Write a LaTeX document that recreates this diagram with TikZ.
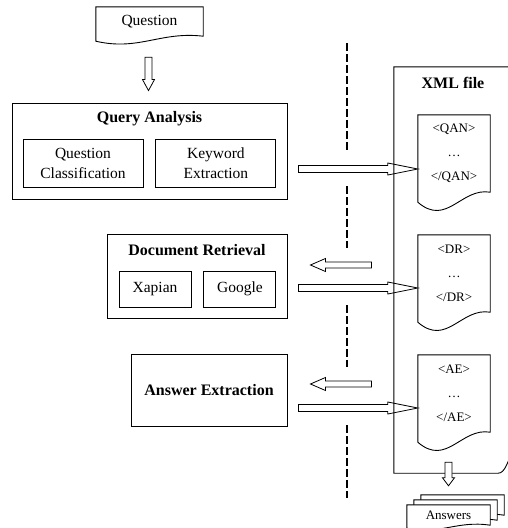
\documentclass[tikz,border=0pt]{standalone}
\usepackage{fontspec}
\setmainfont{Liberation Serif}
\usepackage{tikz}
\usetikzlibrary{calc,positioning,backgrounds}

\begin{document}
\begin{tikzpicture}
  [x=1pt,y=-1pt,
 box/.style={
  rectangle,
  draw=black,
  line width=0.9pt,
  inner sep=0pt,
  align=center,
  font=\fontsize{15.5}{20}\selectfont},
 title/.style={
  inner sep=0pt,
  font=\fontsize{16}{19}\selectfont\bfseries},
 doc/.style={
  rectangle,
  inner sep=0pt,
  align=center,
  font=\fontsize{13}{24}\selectfont},
 docline/.style={draw=black, line width=0.9pt, fill=white},
 divider/.style={line width=2pt, dash pattern=on 8pt off 3pt},
 hollow/.style n args={3}{
  draw=black, line width=0.8pt, fill=white, line join=miter,
  to path={
   ($(\tikztostart)!#1!90:(\tikztotarget)$)
   -- ($($(\tikztotarget)!#3!(\tikztostart)$)!#1!90:(\tikztotarget)$)
   -- ($($(\tikztotarget)!#3!(\tikztostart)$)!#2!90:(\tikztotarget)$)
   -- (\tikztotarget)
   -- ($($(\tikztotarget)!#3!(\tikztostart)$)!#2!-90:(\tikztotarget)$)
   -- ($($(\tikztotarget)!#3!(\tikztostart)$)!#1!-90:(\tikztotarget)$)
   -- ($(\tikztostart)!#1!-90:(\tikztotarget)$) -- cycle}}]
\useasboundingbox (0,0) rectangle (508,528);
\clip (0,0) rectangle (508,528);
% left side: the modules
\node (question) [doc, minimum width=107pt, minimum height=29pt, font=\fontsize{15.5}{18}\selectfont] at (149.5,21.5) {Question};
\node (qa) [box, minimum width=275pt, minimum height=96pt] at (149.5,151) {};
\node (qatitle) [title] at ([shift={(0,16)}]qa.north) {Query Analysis};
\node (qc) [box, minimum width=120pt, minimum height=48pt] at (83,163) {Question\\Classification};
\node (ke) [box, minimum width=120pt, minimum height=48pt, right=12pt of qc] {Keyword\\Extraction};
\node (dr) [box, minimum width=180pt, minimum height=84pt] at (197,276) {};
\node (drtitle) [title] at ([shift={(0,16)}]dr.north) {Document Retrieval};
\node (xapian) [box, minimum width=72pt, minimum height=36pt] at (155,289) {Xapian};
\node (google) [box, minimum width=72pt, minimum height=36pt, right=12pt of xapian] {Google};
\node (ae) [box, minimum width=156pt, minimum height=72pt, font=\fontsize{16}{19}\selectfont\bfseries] at (209,390) {Answer Extraction};
% right side: the XML file
\node (xml) [rectangle, inner sep=0pt, minimum width=130pt, minimum height=406pt] at (459,270) {};
\node (xmltitle) [title] at (453,83) {XML file};
\node (qandoc) [doc, minimum width=72pt, minimum height=77pt] at (454,153.5) {<QAN>\\…\\</QAN>};
\node (drdoc) [doc, minimum width=72pt, minimum height=77pt] at (454,273.5) {<DR>\\…\\</DR>};
\node (aedoc) [doc, minimum width=72pt, minimum height=77pt] at (454,393.5) {<AE>\\…\\</AE>};
\node (answers3) [doc, minimum width=83pt, minimum height=20pt] at (462.5,505) {};
\node (answers2) [doc, minimum width=83pt, minimum height=20pt] at (455.5,510) {};
\node (answers) [doc, minimum width=83pt, minimum height=20pt] at (448.5,515) {Answers};

\coordinate (qtop) at ([shift={(-1,21)}]question.south);
\coordinate (qbot) at ([shift={(-1,-12)}]qa.north);
\coordinate (qaout) at ([shift={(11,18)}]qa.east);
\coordinate (qain) at (qaout -| qandoc.west);
\coordinate (drout) at ([shift={(11,12)}]dr.east);
\coordinate (drin) at (drout -| drdoc.west);
\coordinate (drback) at ([shift={(84,-11)}]dr.east);
\coordinate (drtip) at ([shift={(23,-11)}]dr.east);
\coordinate (aeout) at ([shift={(11,18)}]ae.east);
\coordinate (aein) at (aeout -| aedoc.west);
\coordinate (aeback) at ([shift={(84,-6)}]ae.east);
\coordinate (aetip) at ([shift={(23,-6)}]ae.east);
\coordinate (xmlout) at ([shift={(0,-11)}]answers.north |- xml.south);
\coordinate (ansin) at ([shift={(0,-19)}]answers.north);

% the dashed border
\foreach \a/\b in {43/150,186/248,305/367,425/498}
  \draw[divider] (347,\a) -- (347,\b);

\path (qtop) edge[hollow={3.5pt}{6pt}{11pt}] (qbot);
\path (qaout) edge[hollow={3.5pt}{6pt}{30pt}] (qain);
\path (drout) edge[hollow={3.5pt}{6pt}{30pt}] (drin);
\path (aeout) edge[hollow={3.5pt}{6pt}{30pt}] (aein);
\path (drback) edge[hollow={3pt}{6.5pt}{15pt}] (drtip);
\path (aeback) edge[hollow={3pt}{6.5pt}{15pt}] (aetip);

\draw[line width=0.9pt] (xml.north west) -- (xml.north east) -- ([shift={(0,-40)}]xml.south east)
  .. controls ([shift={(-12,-40)}]xml.south east) and ([shift={(-14,0)}]xml.south east) .. ([shift={(-26,0)}]xml.south east)
  -- (xml.south west) -- cycle;

% document outlines, behind their texts
\begin{pgfonlayer}{background}
\foreach \n/\d/\l in {question/15/5, qandoc/35/10, drdoc/35/10, aedoc/35/10, answers3/10/3, answers2/10/3, answers/10/3}
  \draw[docline] ([shift={(0,\l)}]\n.south west) -- (\n.north west) -- (\n.north east) -- (\n.south east)
    .. controls ($(\n.south east)!0.4!(\n.south west)+(0,-5)$) and ($(\n.south east)!0.6!(\n.south west)+(0,\d)$) .. ([shift={(0,\l)}]\n.south west) -- cycle;
\end{pgfonlayer}

\path (xmlout) edge[hollow={3.5pt}{6pt}{8pt}] (ansin);
\end{tikzpicture}
\end{document}
